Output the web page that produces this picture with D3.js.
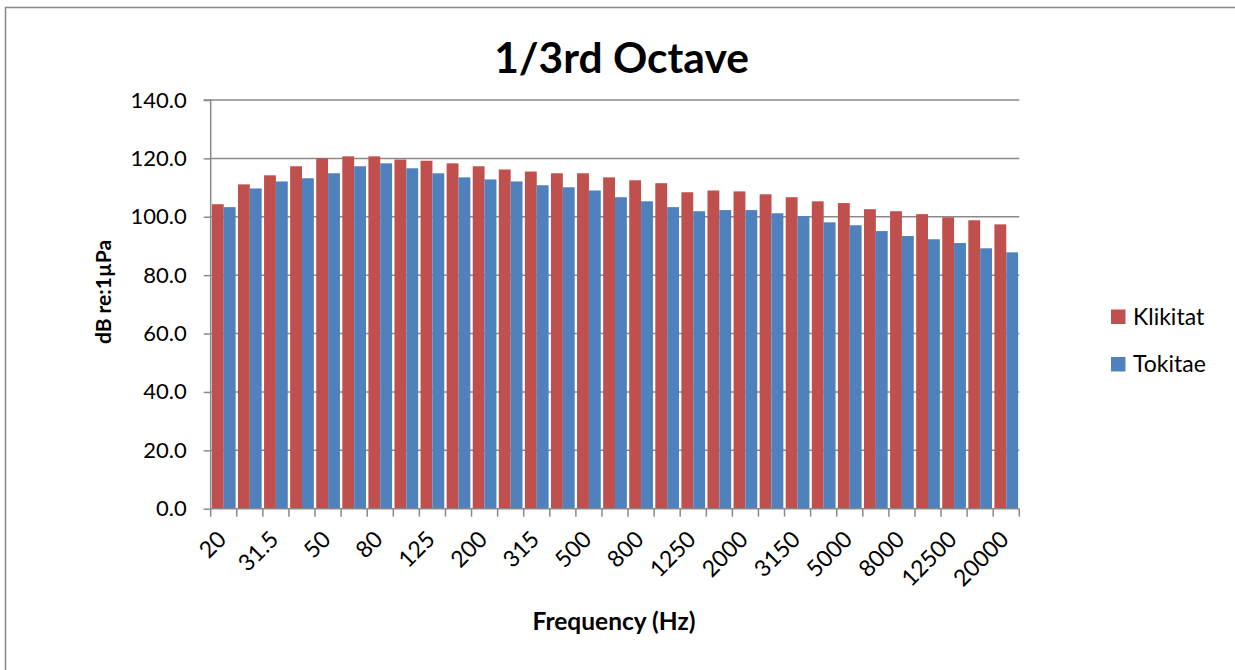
<!DOCTYPE html>
<html>
<head>
<meta charset="utf-8">
<script src="https://cdn.jsdelivr.net/npm/d3@7"></script>
<style>
  html, body { margin: 0; padding: 0; background: #fff; }
  svg { display: block; }
  text { font-family: Lato, "Open Sans", sans-serif; fill: #000; }
</style>
</head>
<body>
<svg id="chart" width="1235" height="670"></svg>
<script>
const categories = ["20","25","31.5","40","50","63","80","100","125","160","200","250","315","400","500","630","800","1000","1250","1600","2000","2500","3150","4000","5000","6300","8000","10000","12500","16000","20000"];
const klikitat = [104.3,111.1,114.2,117.3,120.0,120.7,120.7,119.6,119.2,118.3,117.3,116.2,115.5,114.9,114.9,113.5,112.5,111.5,108.4,109.0,108.7,107.7,106.7,105.3,104.7,102.6,101.9,100.9,99.8,98.8,97.4];
const tokitae = [103.3,109.7,112.1,113.2,114.9,117.3,118.3,116.6,114.9,113.5,112.8,112.1,110.8,110.1,109.0,106.7,105.3,103.3,101.9,102.3,102.3,101.2,100.2,98.1,97.1,95.1,93.4,92.3,91.0,89.2,87.8];
const seriesNames = ["Klikitat","Tokitae"];
const seriesColors = ["#C0504D","#4F81BD"];
const yTicks = [0,20,40,60,80,100,120,140];
const labelEvery = 2;

const svg = d3.select("#chart");
const plot = {left: 210.7, right: 1019.3, top: 100, bottom: 508.7};

// outer chart frame
svg.append("rect").attr("x",5.5).attr("y",7.5).attr("width",1300).attr("height",700)
  .attr("fill","#fff").attr("stroke","#888").attr("stroke-width",1.5);

const x = d3.scaleBand().domain(categories).range([plot.left, plot.right]).paddingInner(0).paddingOuter(0);
const xs = d3.scaleBand().domain(seriesNames).range([0, x.bandwidth()]).paddingInner(0).paddingOuter(0.1);
const y = d3.scaleLinear().domain([0,140]).range([plot.bottom, plot.top]);

// gridlines
svg.append("g").selectAll("line").data(yTicks.filter(d=>d>0)).join("line")
  .attr("x1", plot.left).attr("x2", plot.right)
  .attr("y1", d=>y(d)).attr("y2", d=>y(d))
  .attr("stroke","#8a8a8a").attr("stroke-width",1.5);

// bars
const data = categories.map((c,i)=>({cat:c, vals:[klikitat[i], tokitae[i]]}));
const groups = svg.append("g").selectAll("g").data(data).join("g")
  .attr("transform", d=>`translate(${x(d.cat)},0)`);
groups.selectAll("rect").data(d=>d.vals.map((v,j)=>({v, s:seriesNames[j], c:seriesColors[j]}))).join("rect")
  .attr("x", d=>xs(d.s)).attr("width", xs.bandwidth())
  .attr("y", d=>y(d.v)).attr("height", d=>y(0)-y(d.v))
  .attr("fill", d=>d.c);

// y axis
const yAxis = d3.axisLeft(y).tickValues(yTicks).tickFormat(d3.format(".1f")).tickSize(7).tickPadding(17);
const gy = svg.append("g").attr("transform",`translate(${plot.left},0)`).call(yAxis);
gy.select(".domain").attr("stroke","#8a8a8a").attr("stroke-width",1.5).attr("d",`M-7,${plot.top}H0V${plot.bottom}`);
gy.selectAll(".tick line").attr("stroke","#8a8a8a").attr("stroke-width",1.5);
gy.selectAll(".tick text").style("font-family","Lato, sans-serif").style("font-size","22px").attr("fill","#000");

// x axis line
svg.append("line").attr("x1",plot.left).attr("x2",plot.right).attr("y1",plot.bottom).attr("y2",plot.bottom)
  .attr("stroke","#8a8a8a").attr("stroke-width",1.5);
const bounds = categories.map(c=>x(c)).concat([plot.right]);
svg.append("g").selectAll("line").data(bounds).join("line")
  .attr("x1",d=>d).attr("x2",d=>d).attr("y1",plot.bottom).attr("y2",plot.bottom+8)
  .attr("stroke","#8a8a8a").attr("stroke-width",1.5);

// x labels
svg.append("g").selectAll("text").data(categories.filter((c,i)=>i%labelEvery===0)).join("text")
  .attr("transform", d=>`translate(${x(d)+x.bandwidth()/2+4},${plot.bottom+32}) rotate(-45)`)
  .attr("text-anchor","end")
  .style("font-size","23px")
  .text(d=>d);

// titles
svg.append("text").attr("x",621.5).attr("y",73).attr("text-anchor","middle")
  .style("font-size","42.5px").style("font-weight","700").text("1/3rd Octave");
svg.append("text").attr("transform","translate(111,292) rotate(-90)").attr("text-anchor","middle")
  .style("font-size","21px").style("font-weight","700").text("dB re:1µPa");
svg.append("text").attr("x",614).attr("y",630).attr("text-anchor","middle")
  .style("font-size","24.5px").style("font-weight","700").text("Frequency (Hz)");

// legend
const lg = svg.append("g");
const legY = [309.5, 357];
seriesNames.forEach((s,i)=>{
  lg.append("rect").attr("x",1111).attr("y",legY[i]).attr("width",14.5).attr("height",14.5).attr("fill",seriesColors[i]);
  lg.append("text").attr("x",1133).attr("y",legY[i]+15).style("font-size","23px").text(s);
});
</script>
</body>
</html>
